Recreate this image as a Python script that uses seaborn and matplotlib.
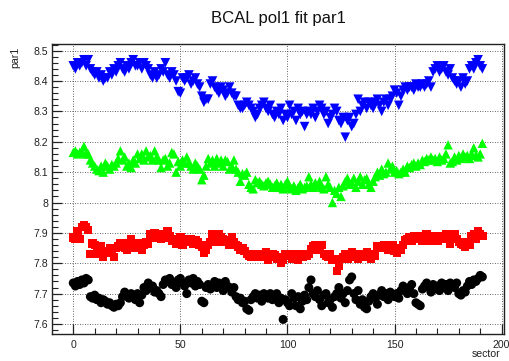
import numpy as np
import pandas as pd
import matplotlib
matplotlib.use("Agg")
import matplotlib.pyplot as plt
from matplotlib.ticker import MultipleLocator
import seaborn as sns

title = "BCAL pol1 fit par1"
x_label = "sector"
y_label = "par1"

blue_vals = [
    8.45, 8.44, 8.46, 8.45, 8.46, 8.47, 8.45, 8.47, 8.44, 8.43,
    8.42, 8.43, 8.41, 8.42, 8.40, 8.41, 8.41, 8.43, 8.42, 8.44,
    8.43, 8.45, 8.46, 8.44, 8.43, 8.45, 8.44, 8.46, 8.47, 8.45,
    8.45, 8.46, 8.44, 8.46, 8.45, 8.44, 8.42, 8.41, 8.43, 8.41,
    8.42, 8.44, 8.43, 8.46, 8.42, 8.41, 8.43, 8.42, 8.40, 8.365,
    8.36, 8.41, 8.40, 8.41, 8.42, 8.39, 8.40, 8.41, 8.39, 8.38,
    8.35, 8.33, 8.34, 8.34, 8.39, 8.40, 8.38, 8.37, 8.36, 8.38,
    8.37, 8.35, 8.36, 8.38, 8.36, 8.35, 8.35, 8.32, 8.31, 8.31,
    8.32, 8.33, 8.32, 8.31, 8.30, 8.28, 8.29, 8.31, 8.32, 8.33,
    8.31, 8.30, 8.32, 8.29, 8.28, 8.30, 8.29, 8.31, 8.27, 8.29,
    8.28, 8.32, 8.29, 8.30, 8.27, 8.31, 8.29, 8.30, 8.25, 8.29,
    8.30, 8.29, 8.31, 8.28, 8.30, 8.32, 8.31, 8.29, 8.30, 8.26,
    8.28, 8.29, 8.31, 8.30, 8.27, 8.26, 8.28, 8.215, 8.27, 8.28,
    8.25, 8.26, 8.29, 8.34, 8.30, 8.32, 8.33, 8.31, 8.33, 8.32,
    8.31, 8.33, 8.34, 8.32, 8.30, 8.33, 8.34, 8.32, 8.34, 8.35,
    8.37, 8.36, 8.32, 8.35, 8.37, 8.38, 8.37, 8.38, 8.38, 8.37,
    8.39, 8.38, 8.38, 8.39, 8.38, 8.39, 8.40, 8.38, 8.43, 8.44,
    8.45, 8.43, 8.44, 8.45, 8.43, 8.42, 8.44, 8.41, 8.40, 8.39,
    8.40, 8.38, 8.41, 8.39, 8.40, 8.44, 8.45, 8.44, 8.46, 8.47,
    8.45, 8.44,
]

green_vals = [
    8.165, 8.17, 8.16, 8.165, 8.17, 8.185, 8.16, 8.16, 8.14, 8.13,
    8.12, 8.11, 8.105, 8.12, 8.10, 8.13, 8.12, 8.11, 8.125, 8.12,
    8.13, 8.145, 8.17, 8.14, 8.15, 8.12, 8.13, 8.115, 8.14, 8.13,
    8.16, 8.145, 8.16, 8.14, 8.17, 8.15, 8.155, 8.14, 8.17, 8.15,
    8.14, 8.115, 8.14, 8.145, 8.12, 8.13, 8.165, 8.16, 8.10, 8.135,
    8.12, 8.14, 8.13, 8.15, 8.13, 8.12, 8.11, 8.13, 8.12, 8.11,
    8.075, 8.09, 8.12, 8.145, 8.13, 8.14, 8.12, 8.145, 8.13, 8.14,
    8.12, 8.14, 8.135, 8.11, 8.12, 8.14, 8.11, 8.10, 8.07, 8.095,
    8.09, 8.10, 8.06, 8.05, 8.045, 8.075, 8.065, 8.07, 8.06, 8.055,
    8.065, 8.07, 8.06, 8.05, 8.055, 8.065, 8.05, 8.06, 8.045, 8.06,
    8.07, 8.05, 8.045, 8.055, 8.04, 8.05, 8.06, 8.045, 8.05, 8.055,
    8.085, 8.06, 8.05, 8.065, 8.055, 8.07, 8.05, 8.045, 8.085, 8.06,
    8.05, 8.00, 8.04, 8.03, 8.05, 8.02, 8.055, 8.07, 8.08, 8.06,
    8.065, 8.08, 8.05, 8.07, 8.085, 8.06, 8.075, 8.08, 8.06, 8.05,
    8.07, 8.085, 8.10, 8.09, 8.11, 8.095, 8.10, 8.13, 8.11, 8.12,
    8.10, 8.105, 8.095, 8.10, 8.11, 8.10, 8.12, 8.115, 8.125, 8.13,
    8.12, 8.13, 8.125, 8.14, 8.135, 8.145, 8.14, 8.15, 8.14, 8.145,
    8.135, 8.15, 8.14, 8.145, 8.16, 8.19, 8.13, 8.135, 8.15, 8.14,
    8.155, 8.145, 8.16, 8.15, 8.155, 8.145, 8.16, 8.18, 8.155, 8.15,
    8.16, 8.195,
]

red_vals = [
    7.885, 7.88, 7.905, 7.88, 7.92, 7.925, 7.92, 7.91, 7.83, 7.865,
    7.86, 7.845, 7.83, 7.855, 7.82, 7.84, 7.835, 7.85, 7.845, 7.82,
    7.85, 7.855, 7.865, 7.86, 7.85, 7.845, 7.865, 7.88, 7.86, 7.85,
    7.855, 7.865, 7.845, 7.86, 7.87, 7.865, 7.895, 7.885, 7.90, 7.89,
    7.885, 7.88, 7.895, 7.885, 7.905, 7.89, 7.875, 7.88, 7.865, 7.87,
    7.885, 7.86, 7.87, 7.88, 7.875, 7.88, 7.865, 7.875, 7.87, 7.86,
    7.855, 7.835, 7.845, 7.86, 7.87, 7.895, 7.88, 7.87, 7.895, 7.885,
    7.88, 7.87, 7.875, 7.86, 7.885, 7.87, 7.86, 7.855, 7.845, 7.85,
    7.84, 7.83, 7.825, 7.82, 7.83, 7.825, 7.82, 7.83, 7.825, 7.82,
    7.835, 7.81, 7.82, 7.83, 7.825, 7.815, 7.82, 7.80, 7.81, 7.83,
    7.825, 7.83, 7.815, 7.82, 7.83, 7.81, 7.825, 7.82, 7.83, 7.825,
    7.83, 7.845, 7.855, 7.86, 7.85, 7.845, 7.86, 7.83, 7.825, 7.82,
    7.83, 7.81, 7.815, 7.775, 7.79, 7.815, 7.82, 7.83, 7.815, 7.82,
    7.835, 7.82, 7.83, 7.815, 7.825, 7.83, 7.82, 7.835, 7.82, 7.815,
    7.83, 7.825, 7.855, 7.85, 7.855, 7.86, 7.85, 7.845, 7.855, 7.86,
    7.84, 7.835, 7.85, 7.845, 7.86, 7.875, 7.88, 7.885, 7.875, 7.89,
    7.88, 7.885, 7.89, 7.875, 7.89, 7.895, 7.88, 7.875, 7.885, 7.89,
    7.875, 7.885, 7.89, 7.88, 7.895, 7.885, 7.865, 7.89, 7.895, 7.88,
    7.87, 7.865, 7.86, 7.855, 7.87, 7.86, 7.89, 7.895, 7.88, 7.905,
    7.895, 7.89,
]

black_vals = [
    7.735, 7.725, 7.74, 7.73, 7.745, 7.735, 7.75, 7.745, 7.69, 7.685,
    7.695, 7.68, 7.685, 7.67, 7.68, 7.675, 7.665, 7.67, 7.66, 7.655,
    7.665, 7.66, 7.67, 7.69, 7.705, 7.695, 7.685, 7.70, 7.69, 7.68,
    7.70, 7.67, 7.695, 7.72, 7.71, 7.735, 7.72, 7.725, 7.705, 7.71,
    7.70, 7.69, 7.73, 7.745, 7.74, 7.75, 7.73, 7.735, 7.72, 7.745,
    7.75, 7.735, 7.725, 7.70, 7.745, 7.735, 7.75, 7.725, 7.74, 7.73,
    7.675, 7.67, 7.72, 7.73, 7.715, 7.725, 7.74, 7.72, 7.735, 7.73,
    7.71, 7.74, 7.725, 7.72, 7.705, 7.72, 7.69, 7.68, 7.685, 7.67,
    7.675, 7.65, 7.645, 7.68, 7.69, 7.70, 7.685, 7.695, 7.675, 7.70,
    7.69, 7.685, 7.70, 7.68, 7.685, 7.70, 7.67, 7.685, 7.615, 7.68,
    7.67, 7.66, 7.70, 7.685, 7.66, 7.69, 7.65, 7.675, 7.695, 7.68,
    7.72, 7.745, 7.70, 7.69, 7.71, 7.68, 7.66, 7.695, 7.70, 7.67,
    7.68, 7.655, 7.69, 7.70, 7.72, 7.685, 7.70, 7.67, 7.71, 7.745,
    7.755, 7.70, 7.68, 7.71, 7.665, 7.68, 7.655, 7.65, 7.675, 7.69,
    7.70, 7.685, 7.665, 7.695, 7.71, 7.69, 7.70, 7.68, 7.705, 7.695,
    7.69, 7.70, 7.685, 7.71, 7.725, 7.715, 7.70, 7.72, 7.73, 7.70,
    7.67, 7.665, 7.66, 7.715, 7.725, 7.735, 7.72, 7.705, 7.73, 7.715,
    7.725, 7.71, 7.735, 7.72, 7.73, 7.71, 7.735, 7.73, 7.72, 7.735,
    7.70, 7.695, 7.71, 7.705, 7.725, 7.74, 7.73, 7.745, 7.74, 7.75,
    7.76, 7.755,
]

sectors = list(range(len(blue_vals)))

sns.set_theme(style="white")
plt.rcParams["font.family"] = ["Liberation Sans", "DejaVu Sans"]

fig = plt.figure(figsize=(5.10, 3.61), dpi=100)
ax = fig.add_axes([0.1025, 0.0748, 0.8857, 0.8042])

series = [
    (black_vals, "black", "o", 42),
    (red_vals, "#ff0000", "s", 36),
    (green_vals, "#00ff00", "^", 46),
    (blue_vals, "#0000ff", "v", 48),
]
for vals, col, mk, s in series:
    df = pd.DataFrame({"sector": sectors, "par1": vals})
    sns.scatterplot(data=df, x="sector", y="par1", color=col, marker=mk,
                    s=s, linewidth=0, edgecolor="none", ax=ax, legend=False)

ax.set_xlim(-9.8, 201.1)
ax.set_ylim(7.567, 8.523)
ax.set_xlabel("")
ax.set_ylabel("")

ax.xaxis.set_major_locator(MultipleLocator(50))
ax.xaxis.set_minor_locator(MultipleLocator(10))
ax.yaxis.set_major_locator(MultipleLocator(0.1))
ax.yaxis.set_minor_locator(MultipleLocator(0.02))
ax.set_yticks([7.6, 7.7, 7.8, 7.9, 8.0, 8.1, 8.2, 8.3, 8.4, 8.5])
ax.set_yticklabels(["7.6", "7.7", "7.8", "7.9", "8", "8.1", "8.2", "8.3", "8.4", "8.5"])

ax.tick_params(axis="both", which="both", direction="in", colors="#222222",
               labelsize=7.6, top=False, right=False, bottom=True, left=True)
ax.tick_params(axis="y", which="major", length=7.5, width=0.9, pad=3)
ax.tick_params(axis="y", which="minor", length=4, width=0.8)
ax.tick_params(axis="x", which="major", length=7.5, width=0.9, pad=4)
ax.tick_params(axis="x", which="minor", length=4, width=0.8)

ax.grid(True, which="major", color="#333333", linestyle=(0, (1, 2)), linewidth=0.6)
for sp in ax.spines.values():
    sp.set_visible(True)
    sp.set_color("#222222")
    sp.set_linewidth(1.0)

fig.text(0.545, 1 - 19 / 361, title, ha="center", va="center", fontsize=12, color="#111111")
fig.text(15 / 510, 1 - 47 / 361, y_label, rotation=90, ha="center", va="top", fontsize=7.6, color="#222222")
fig.text(500 / 510, 1 - 354 / 361, x_label, ha="right", va="center", fontsize=7.6, color="#222222")

fig.savefig("out.png", dpi=100)
